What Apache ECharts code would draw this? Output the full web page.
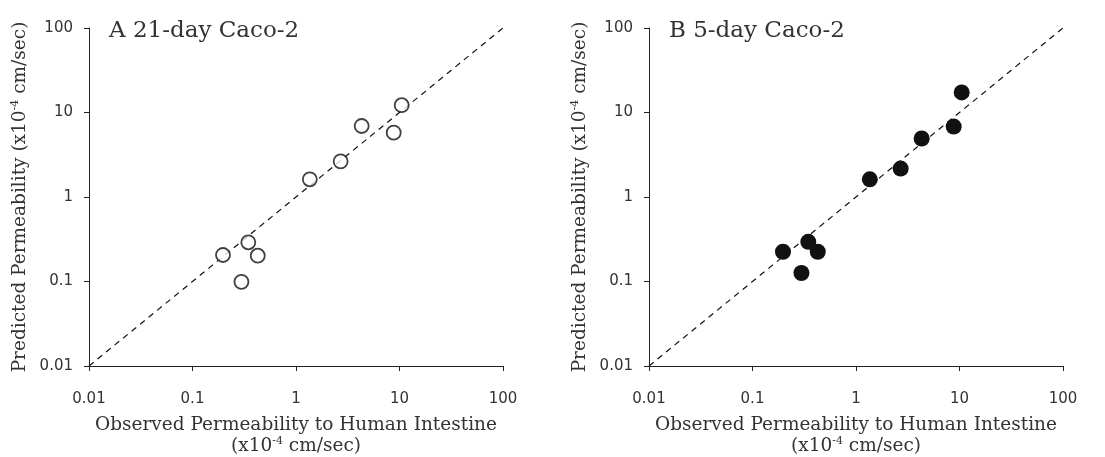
<!DOCTYPE html>
<html>
<head>
<meta charset="utf-8">
<script src="https://cdn.jsdelivr.net/npm/echarts@6/dist/echarts.min.js"></script>
<style>
html, body { margin: 0; padding: 0; background: #fff; }
#chart { width: 1105px; height: 457px; }
</style>
</head>
<body>
<div id="chart"></div>
<script>
// observed permeability (x axis), shared by both panels
var observed = [0.197, 0.346, 0.427, 0.297, 1.36, 2.70, 4.31, 8.79, 10.5];
// predicted, 21-day Caco-2
var predicted21 = [0.206, 0.291, 0.202, 0.099, 1.62, 2.64, 6.92, 5.77, 12.2];
// predicted, 5-day Caco-2
var predicted5 = [0.225, 0.295, 0.225, 0.126, 1.62, 2.17, 4.92, 6.82, 17.3];
var unityLine = [[0.01, 0.01], [100, 100]];
var panelTitles = ['A 21-day Caco-2', 'B 5-day Caco-2'];
var tickLabels = ['0.01', '0.1', '1', '10', '100'];

var serif = 'DejaVu Serif';
var sans = 'DejaVu Sans';

function pairs(xs, ys) {
    var out = [];
    for (var i = 0; i < xs.length; i++) {
        out.push([xs[i], ys[i]]);
    }
    return out;
}

function fmt(v) {
    var s = String(+v.toPrecision(3));
    return tickLabels.indexOf(s) >= 0 ? s : '';
}

function richText(size) {
    return {
        n: { fontFamily: serif, fontSize: size, color: '#333' },
        sup: { fontFamily: serif, fontSize: 11, color: '#333', verticalAlign: 'top', padding: [0, 0, 9, 0] }
    };
}

function xAxis(idx) {
    return {
        type: 'log', logBase: 10, min: 0.01, max: 100, gridIndex: idx,
        name: '{n|Observed Permeability to Human Intestine}\n{n|(x10}{sup|-4}{n| cm/sec)}',
        nameLocation: 'middle', nameGap: 49,
        nameTextStyle: { lineHeight: 21, rich: richText(18.5) },
        axisLine: { lineStyle: { color: '#222', width: 1 } },
        axisTick: { show: true, length: 5, lineStyle: { color: '#222' } },
        minorTick: { show: false },
        splitLine: { show: false },
        axisLabel: { margin: 26, fontFamily: sans, fontSize: 15, color: '#333', formatter: fmt }
    };
}

function yAxis(idx) {
    return {
        type: 'log', logBase: 10, min: 0.01, max: 100, gridIndex: idx,
        name: '{n|Predicted Permeability (x10}{sup|-4}{n| cm/sec)}',
        nameLocation: 'middle', nameGap: 59,
        nameTextStyle: { rich: richText(18.5) },
        axisLine: { show: true, lineStyle: { color: '#222', width: 1 } },
        axisTick: { show: true, length: 5, lineStyle: { color: '#222' } },
        splitLine: { show: false },
        axisLabel: { margin: 16, fontFamily: sans, fontSize: 15, color: '#333', formatter: fmt }
    };
}

var myChart = echarts.init(document.getElementById('chart'));

var titleStyle = { fontFamily: serif, fontSize: 23, fontWeight: 'normal', color: '#333' };

var option = {
    animation: false,
    backgroundColor: '#fff',
    title: [
        { text: panelTitles[0], left: 104, top: 15, textStyle: titleStyle },
        { text: panelTitles[1], left: 664, top: 15, textStyle: titleStyle }
    ],
    grid: [
        { left: 89, top: 28, width: 414, height: 338, outerBoundsMode: 'none' },
        { left: 649, top: 28, width: 414, height: 338, outerBoundsMode: 'none' }
    ],
    xAxis: [xAxis(0), xAxis(1)],
    yAxis: [yAxis(0), yAxis(1)],
    series: [
        {
            type: 'line', xAxisIndex: 0, yAxisIndex: 0, data: unityLine, symbol: 'none', z: 1,
            lineStyle: { color: '#111', width: 1.2, type: [6, 5] }
        },
        {
            type: 'line', xAxisIndex: 1, yAxisIndex: 1, data: unityLine, symbol: 'none', z: 1,
            lineStyle: { color: '#111', width: 1.2, type: [6, 5] }
        },
        {
            type: 'scatter', xAxisIndex: 0, yAxisIndex: 0, data: pairs(observed, predicted21),
            symbol: 'circle', symbolSize: 14, z: 3,
            itemStyle: { color: '#fff', borderColor: '#111', borderWidth: 1.8 }
        },
        {
            type: 'scatter', xAxisIndex: 1, yAxisIndex: 1, data: pairs(observed, predicted5),
            symbol: 'circle', symbolSize: 16, z: 3,
            itemStyle: { color: '#111', opacity: 1 }
        }
    ]
};

myChart.setOption(option);
</script>
</body>
</html>
